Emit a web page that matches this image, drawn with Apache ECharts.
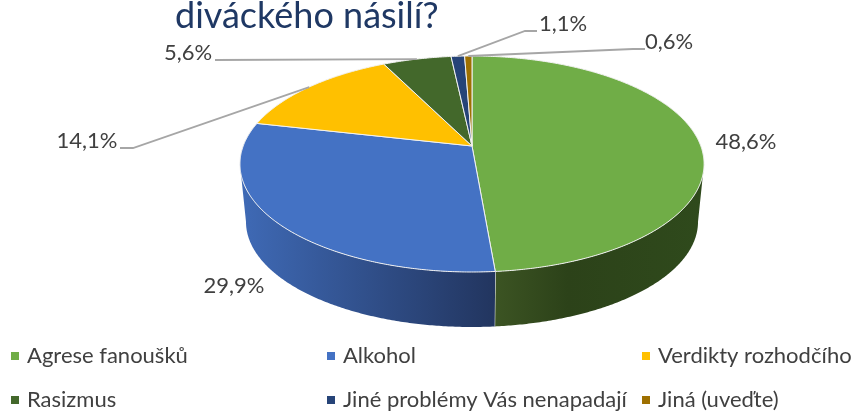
<!DOCTYPE html>
<html>
<head>
<meta charset="utf-8">
<style>html,body{margin:0;padding:0;background:#fff}#c{width:858px;height:412px}</style>
<script src="https://cdn.jsdelivr.net/npm/echarts@6/dist/echarts.min.js"></script>
</head>
<body>
<div id="c"></div>
<script>
const titleText = 'diváckého násilí?';
const categories = ['Agrese fanoušků', 'Alkohol', 'Verdikty rozhodčího', 'Rasizmus', 'Jiné problémy Vás nenapadají', 'Jiná (uveďte)'];
const shares = [48.6, 29.9, 14.1, 5.6, 1.1, 0.6];
const colors = ['#70ad47', '#4472c4', '#ffc000', '#43682b', '#264478', '#9e7000'];
const legendColumns = [[0, 3], [1, 4], [2, 5]];

// Layout of the tilted disc (perspective view of a circle)
const disc = { cx: 472, hubY: 146, a: 228.8, b: 105, k: 1 / 6, floorScale: 0.974, floorBottom: 327 };
const wallStops = [
  [[0, '#3c5423'], [0.35, '#2c4219'], [1, '#2f4a1c']],
  [[0, '#3f6ab6'], [1, '#22355f']],
  null, null, null, null
];
const labelCentres = [[746, 142], [234, 286], [87, 141], [188, 53], [563, 24], [669, 42]];
const leaderElbows = [null, null, [[120, 148], [133, 148]], [[215, 60], [216, 60]], [[537, 31], [525, 31]], [[645, 49], [633, 49]]];

function project(deg, r, floor) {
  const t = deg * Math.PI / 180, u = r * Math.sin(t), v = r * Math.cos(t), w = 1 + disc.k * v;
  const x = disc.a * u / w, y = disc.b * v / w;
  if (!floor) return [disc.cx + x, disc.hubY - y];
  const s = disc.floorScale, hub2 = disc.floorBottom - s * disc.b / (1 - disc.k);
  return [disc.cx + s * x, hub2 - s * y];
}
function range(i) {
  let sum = 0;
  for (let j = 0; j < i; j++) sum += shares[j];
  const total = shares.reduce((a, b) => a + b, 0);
  return [sum / total * 360, (sum + shares[i]) / total * 360];
}
function arc(a1, a2, r, floor) {
  const pts = [], n = Math.max(2, Math.ceil(Math.abs(a2 - a1) * 2));
  for (let i = 0; i <= n; i++) pts.push(project(a1 + (a2 - a1) * i / n, r, floor));
  return pts;
}
const wallFrom = Math.acos(-disc.k) * 180 / Math.PI, wallTo = 360 - wallFrom;

function renderSlice(params) {
  const i = params.seriesIndex, [a1, a2] = range(i), children = [];
  const f = Math.max(a1, wallFrom), t = Math.min(a2, wallTo);
  if (f < t && wallStops[i]) {
    const pts = arc(f, t, 1, false).concat(arc(t, f, 1, true));
    children.push({
      type: 'polygon', shape: { points: pts },
      style: {
        fill: new echarts.graphic.LinearGradient(0, 0, 1, 0,
          wallStops[i].map(s => ({ offset: s[0], color: s[1] }))),
        stroke: null
      }
    });
    if (a2 < wallTo) {
      children.push({
        type: 'line',
        shape: { x1: project(a2, 1, false)[0], y1: project(a2, 1, false)[1], x2: project(a2, 1, true)[0], y2: project(a2, 1, true)[1] },
        style: { stroke: '#ffffff', lineWidth: 1 }
      });
    }
  }
  children.push({
    type: 'polygon', shape: { points: [project(0, 0, false)].concat(arc(a1, a2, 1, false)) },
    style: { fill: colors[i], stroke: '#f2f2f2', lineWidth: 1, lineJoin: 'round' }
  });
  return { type: 'group', children };
}

function renderLabel(params, api) {
  const i = params.dataIndex, [a1, a2] = range(i), children = [];
  const end = project((a1 + a2) / 2, 1, false);
  if (leaderElbows[i]) {
    const pts = leaderElbows[i].concat([end]);
    children.push({
      type: 'polyline', shape: { points: pts },
      style: { fill: null, stroke: '#a6a6a6', lineWidth: 1.8 }
    });
  }
  children.push({
    type: 'text', x: labelCentres[i][0], y: labelCentres[i][1],
    style: {
      text: api.value(0).toFixed(1).replace('.', ',') + '%',
      fill: '#404040', font: '22px Lato', align: 'center', verticalAlign: 'middle'
    }
  });
  return { type: 'group', children };
}

const sliceSeries = categories.map((name, i) => ({
  type: 'custom', name, coordinateSystem: 'none', silent: true, z: 2,
  itemStyle: { color: colors[i] }, data: [[shares[i]]], renderItem: renderSlice
}));
const labelSeries = {
  type: 'custom', name: 'labels', coordinateSystem: 'none', silent: true, z: 5,
  data: shares.map(v => [v]), renderItem: renderLabel
};

const chart = echarts.init(document.getElementById('c'), null, { renderer: 'canvas' });
chart.setOption({
  animation: false,
  backgroundColor: '#ffffff',
  title: {
    text: titleText, left: 175, top: -2, padding: 0,
    textStyle: { color: '#1f3864', fontFamily: 'Lato', fontSize: 36, fontWeight: 'normal' }
  },
  legend: legendColumns.map((col, c) => ({
    orient: 'vertical', left: [11, 327, 642][c], top: 345, padding: 0, itemGap: 22,
    itemWidth: 8, itemHeight: 8, icon: 'rect', selectedMode: false,
    data: col.map(i => categories[i]),
    textStyle: { color: '#404040', fontFamily: 'Lato', fontSize: 22, lineHeight: 22, padding: [0, 0, 0, 3] }
  })),
  series: sliceSeries.concat([labelSeries])
});
</script>
</body>
</html>
